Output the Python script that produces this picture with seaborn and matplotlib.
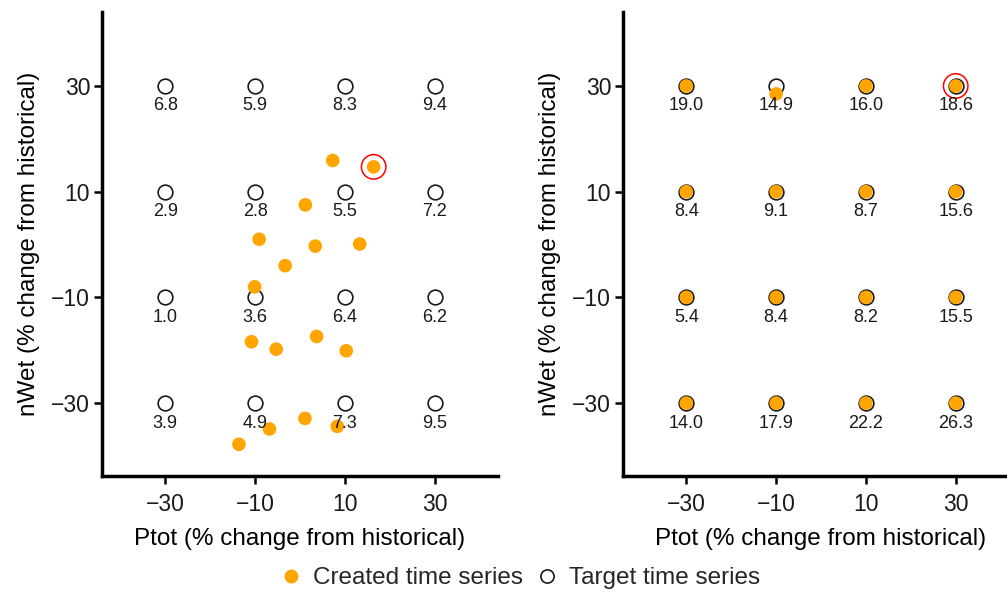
import matplotlib
matplotlib.use("Agg")
import matplotlib.pyplot as plt
from matplotlib.lines import Line2D
import numpy as np
import pandas as pd
import seaborn as sns

# Target grid of changes (%)
ptot_levels = [-30, -10, 10, 30]
nwet_levels = [30, 10, -10, -30]

# Values printed under each target, rows follow nwet_levels, columns ptot_levels
left_labels = [
    ["6.8", "5.9", "8.3", "9.4"],
    ["2.9", "2.8", "5.5", "7.2"],
    ["1.0", "3.6", "6.4", "6.2"],
    ["3.9", "4.9", "7.3", "9.5"],
]
right_labels = [
    ["19.0", "14.9", "16.0", "18.6"],
    ["8.4", "9.1", "8.7", "15.6"],
    ["5.4", "8.4", "8.2", "15.5"],
    ["14.0", "17.9", "22.2", "26.3"],
]

# Created time series (left panel)
left_created_ptot = [7.3, 16.4, 1.2, -9.1, 3.4, 13.3, -3.3, -10.1,
                     -10.8, -5.3, 3.7, 10.3, 1.1, -6.8, 8.3, -13.6]
left_created_nwet = [15.9, 14.7, 7.5, 1.0, -0.3, 0.1, -4.0, -8.0,
                     -18.4, -19.8, -17.4, -20.1, -32.9, -34.9, -34.4, -37.8]

# Created time series (right panel)
right_created_ptot = [-30, -10, 10, 30, -30, -10, 10, 30,
                      -30, -10, 10, 30, -30, -10, 10, 30]
right_created_nwet = [30, 28.5, 30, 30, 10, 10, 10, 10,
                      -10, -10, -10, -10, -30, -30, -30, -30]

# Highlighted created series
left_highlight = (16.4, 14.7)
right_highlight = (30, 30)

sns.set_theme(style="ticks")
plt.rcParams["font.family"] = ["Liberation Sans", "DejaVu Sans"]

fig = plt.figure(figsize=(10.07, 5.95), dpi=100)
W, H = 1007, 595
ax_left = fig.add_axes([102 / W, (H - 476) / H, 396 / W, 464 / H])
ax_right = fig.add_axes([623 / W, (H - 476) / H, 396 / W, 464 / H])

targets = pd.DataFrame(
    [(p, n) for n in nwet_levels for p in ptot_levels], columns=["Ptot", "nWet"]
)

panels = [
    (ax_left, left_created_ptot, left_created_nwet, left_labels, left_highlight),
    (ax_right, right_created_ptot, right_created_nwet, right_labels, right_highlight),
]

for ax, cx, cy, labels, hl in panels:
    created = pd.DataFrame({"Ptot": cx, "nWet": cy})
    sns.scatterplot(data=targets, x="Ptot", y="nWet", ax=ax, s=112,
                    facecolor="white", edgecolor="#1a1a1a", linewidth=1.2,
                    legend=False, zorder=2)
    sns.scatterplot(data=created, x="Ptot", y="nWet", ax=ax, s=96,
                    color="orange", edgecolor="none", linewidth=0,
                    legend=False, zorder=3)
    sns.scatterplot(x=[hl[0]], y=[hl[1]], ax=ax, s=310, facecolor="none",
                    edgecolor="red", linewidth=1.1, legend=False, zorder=4)
    for i, n in enumerate(nwet_levels):
        for j, p in enumerate(ptot_levels):
            ax.annotate(labels[i][j], (p, n), xytext=(0, -14.4),
                        textcoords="offset points", ha="center", va="center",
                        fontsize=13, color="#1a1a1a", zorder=5)

    ax.set_xlim(-44.1, 44.1)
    ax.set_ylim(-43.8, 44.0)
    ax.set_xticks(ptot_levels)
    ax.set_yticks(nwet_levels)
    ax.set_xticklabels([f"{v}".replace("-", "\u2212") for v in ptot_levels])
    ax.set_yticklabels([f"{v}".replace("-", "\u2212") for v in nwet_levels])
    ax.set_xlabel("Ptot (% change from historical)", fontsize=17.5,
                  color="black", labelpad=9)
    ax.set_ylabel("nWet (% change from historical)", fontsize=17.5,
                  color="black", labelpad=8)
    ax.tick_params(axis="both", labelsize=16.5, length=5.5, width=1.8,
                   color="black", labelcolor="#1a1a1a")
    ax.tick_params(axis="x", pad=6.5)
    ax.tick_params(axis="y", pad=3)
    for side in ["top", "right"]:
        ax.spines[side].set_visible(False)
    for side in ["left", "bottom"]:
        ax.spines[side].set_linewidth(2.5)
        ax.spines[side].set_color("black")

handles = [
    Line2D([], [], marker="o", linestyle="", markerfacecolor="orange",
           markeredgecolor="none", markersize=10),
    Line2D([], [], marker="o", linestyle="", markerfacecolor="white",
           markeredgecolor="#1a1a1a", markeredgewidth=1.2, markersize=9.5),
]
fig.legend(handles, ["Created time series", "Target time series"],
           loc="center", bbox_to_anchor=(521 / W, 1 - 578 / H), ncol=2,
           frameon=False, fontsize=17.5, handlelength=0.8,
           handletextpad=0.5, columnspacing=0.6)

fig.savefig("out.png", dpi=100)
